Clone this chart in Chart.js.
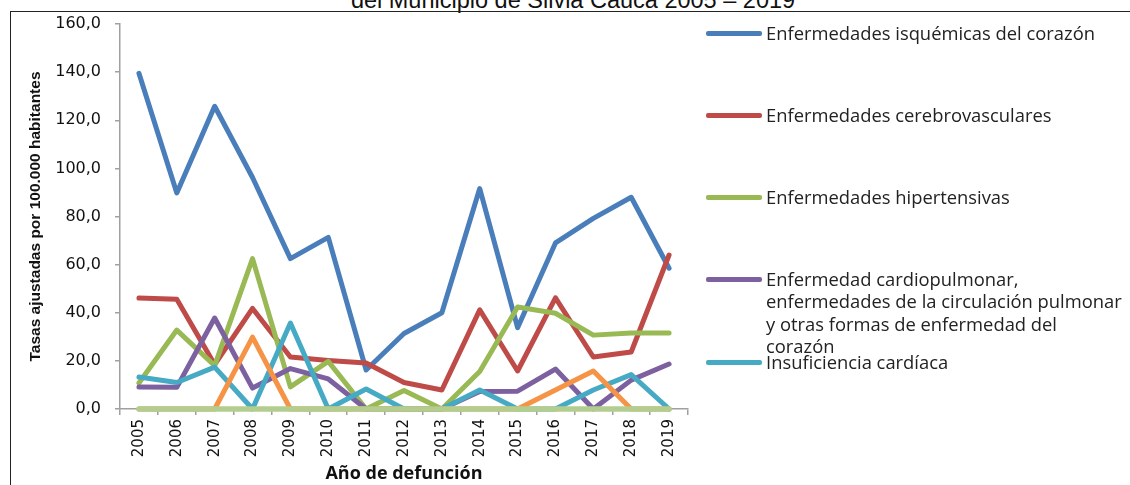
<!DOCTYPE html>
<html><head><meta charset="utf-8">
<script src="https://cdn.jsdelivr.net/npm/chart.js@4/dist/chart.umd.min.js"></script>
<style>
html,body{margin:0;padding:0;background:#fff;width:1130px;height:485px;overflow:hidden;}
#wrap{position:relative;width:1130px;height:485px;overflow:hidden;}
#frame{position:absolute;left:10px;top:11px;width:1130px;height:480px;border-top:1.5px solid #222;border-left:1.5px solid #222;}
#title{position:absolute;left:0;width:1146px;top:-13px;text-align:center;font:23.5px "Liberation Sans",Arial,sans-serif;color:#111;white-space:nowrap;}
canvas{position:absolute;left:0;top:0;}
#legend{position:absolute;left:706px;top:0;width:424px;height:485px;}
.sw{position:absolute;left:0;width:56px;height:4.5px;border-radius:2px;}
.tx{position:absolute;left:60px;font-family:"Open Sans",sans-serif;color:#222;line-height:22.5px;white-space:nowrap;}
</style></head>
<body>
<div id="wrap">
  <div id="title">del Municipio de Silvia Cauca 2005 – 2019</div>
  <div id="frame"></div>
  <canvas id="c" width="1130" height="485"></canvas>
  <div id="legend"></div>
</div>
<script>
const years = ['2005','2006','2007','2008','2009','2010','2011','2012','2013','2014','2015','2016','2017','2018','2019'];
const isquemicas        = [139.5, 89.8, 125.8, 96.2, 62.5, 71.3, 16.2, 31.4, 40.0, 91.6, 33.8, 69.0, 79.2, 88.0, 58.5];
const cerebrovasculares = [46.1, 45.6, 18.5, 41.8, 21.6, 20.2, 19.1, 11.0, 7.9, 41.2, 15.8, 46.2, 21.6, 23.7, 64.0];
const hipertensivas     = [10.8, 32.8, 18.0, 62.5, 9.2, 19.8, 0.0, 7.7, 0.0, 15.6, 42.4, 39.8, 30.7, 31.6, 31.6];
const cardiopulmonar    = [9.1, 9.0, 37.8, 8.7, 16.8, 12.5, 0.0, 0.0, 0.0, 7.3, 7.4, 16.6, 0.0, 12.0, 18.7];
const insuficiencia     = [13.3, 11.0, 17.4, 0.0, 35.7, 0.0, 8.3, 0.0, 0.0, 7.9, 0.0, 0.0, 7.9, 14.3, 0.0];
const paroCardiaco      = [0.0, 0.0, 0.0, 29.9, 0.0, 0.0, 0.0, 0.0, 0.0, 0.0, 0.0, 7.9, 15.8, 0.0, 0.0];
const fiebreReumatica   = [0.0, 0.0, 0.0, 0.0, 0.0, 0.0, 0.0, 0.0, 0.0, 0.0, 0.0, 0.0, 0.0, 0.0, 0.0];
const yTicks = [0, 20, 40, 60, 80, 100, 120, 140, 160];

const seriesNames = [
  'Enfermedades isquémicas del corazón',
  'Enfermedades cerebrovasculares',
  'Enfermedades hipertensivas',
  'Enfermedad cardiopulmonar, enfermedades de la circulación pulmonar y otras formas de enfermedad del corazón',
  'Insuficiencia cardíaca',
  'Paro cardíaco',
  'Fiebre reumática aguda y enfermedades cardíacas reumáticas crónicas'
];
const legendLines = [
  ['Enfermedades isquémicas del corazón'],
  ['Enfermedades cerebrovasculares'],
  ['Enfermedades hipertensivas'],
  ['Enfermedad cardiopulmonar,','enfermedades de la circulación pulmonar','y otras formas de enfermedad del','corazón'],
  ['Insuficiencia cardíaca']
];
const seriesData = [isquemicas, cerebrovasculares, hipertensivas, cardiopulmonar, insuficiencia, paroCardiaco, fiebreReumatica];
const colors = ['#4a7ebb','#be4b48','#98b954','#7d60a0','#46aac5','#f59446','#b3cd8e'];

// legend (HTML text)
const legendY = [33, 115, 197, 279, 362];
const mctx = document.createElement('canvas').getContext('2d');
mctx.font = '100px "Open Sans"';
const fs = 100 * 329 / mctx.measureText(legendLines[0][0]).width;
const lg = document.getElementById('legend');
legendLines.forEach((lines, i) => {
  const sw = document.createElement('div');
  sw.className = 'sw';
  sw.style.top = (legendY[i] - 2) + 'px';
  sw.style.background = colors[i];
  lg.appendChild(sw);
  const tx = document.createElement('div');
  tx.className = 'tx';
  tx.style.top = (legendY[i] - 11.5) + 'px';
  tx.style.fontSize = fs.toFixed(2) + 'px';
  tx.innerHTML = lines.join('<br>');
  lg.appendChild(tx);
});

const n = seriesData.length;
new Chart(document.getElementById('c'), {
  type: 'line',
  data: {
    labels: years,
    datasets: seriesData.map((d, i) => ({
      label: seriesNames[i],
      data: d,
      borderColor: colors[i],
      backgroundColor: colors[i],
      borderWidth: i === n - 1 ? 5.5 : 5,
      pointRadius: 0,
      tension: 0,
      fill: false,
      clip: false,
      borderJoinStyle: 'round',
      borderCapStyle: 'round',
      order: n - i
    }))
  },
  options: {
    responsive: false,
    animation: false,
    devicePixelRatio: 1,
    layout: { padding: { left: 10, top: 24, right: 442, bottom: 0 } },
    plugins: { legend: { display: false }, tooltip: { enabled: false } },
    scales: {
      x: {
        offset: true,
        grid: { offset: true, drawOnChartArea: false, drawTicks: true, tickLength: 6, color: '#a0a0a0', lineWidth: 1.5 },
        border: { color: '#a0a0a0', width: 1.5 },
        ticks: { autoSkip: false, minRotation: 90, maxRotation: 90, padding: 4, color: '#111',
                 font: { family: 'DejaVu Sans', size: 15 } },
        title: { display: true, text: 'Año de defunción', color: '#111',
                 font: { family: 'Open Sans', weight: 'bold', size: 18 }, padding: { top: 0, bottom: 0 } },
        afterFit: s => { s.height = 76; }
      },
      y: {
        min: 0, max: 160,
        afterBuildTicks: s => { s.ticks = yTicks.map(v => ({ value: v })); },
        ticks: { padding: 14, color: '#111', font: { family: 'DejaVu Sans', size: 16 },
                 callback: v => v.toFixed(1).replace('.', ',') },
        grid: { drawOnChartArea: false, tickLength: 5, color: '#a0a0a0', lineWidth: 1.5 },
        border: { color: '#a0a0a0', width: 1.5 },
        title: { display: true, text: 'Tasas ajustadas por 100.000 habitantes', color: '#111',
                 font: { family: 'Liberation Sans', weight: 'bold', size: 15.5 }, padding: { top: 16, bottom: 0 } },
        afterFit: s => { s.width = 110; }
      }
    }
  }
});
</script>
</body></html>
